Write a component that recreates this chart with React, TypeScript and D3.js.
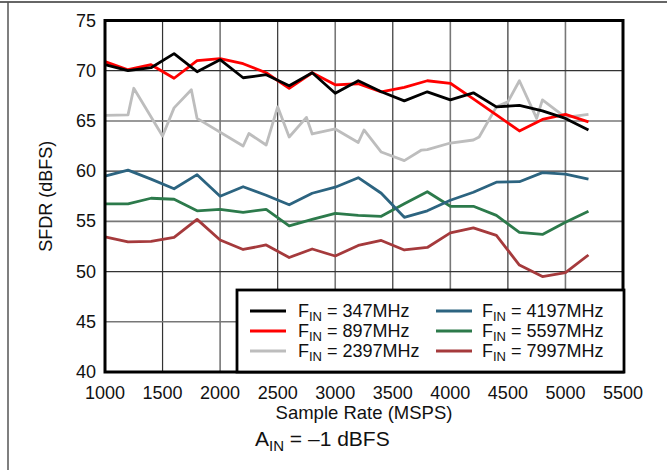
import React from "react";
import * as d3 from "d3";

const sampleRates = [1000, 1200, 1400, 1600, 1800, 2000, 2200, 2400, 2600, 2800, 3000, 3200, 3400, 3600, 3800, 4000, 4200, 4400, 4600, 4800, 5000, 5200];
const fin347 = [70.6, 70.0, 70.3, 71.7, 69.9, 71.1, 69.3, 69.6, 68.5, 69.8, 67.75, 69.0, 67.9, 67.0, 67.9, 67.1, 67.8, 66.4, 66.55, 66.0, 65.25, 64.1];
const fin897 = [70.9, 70.1, 70.6, 69.25, 71.0, 71.2, 70.7, 69.8, 68.25, 69.8, 68.6, 68.7, 67.9, 68.35, 69.0, 68.75, 67.2, 65.6, 64.0, 65.15, 65.65, 64.9];
const fin4197 = [59.5, 60.1, 59.2, 58.25, 59.65, 57.5, 58.45, 57.6, 56.65, 57.8, 58.4, 59.35, 57.8, 55.4, 56.05, 57.1, 57.9, 58.9, 58.95, 59.85, 59.7, 59.2];
const fin5597 = [56.75, 56.75, 57.3, 57.2, 56.05, 56.2, 55.9, 56.2, 54.55, 55.2, 55.8, 55.6, 55.5, 56.75, 57.95, 56.5, 56.5, 55.6, 53.9, 53.7, 54.9, 56.0];
const fin7997 = [53.45, 52.95, 53.0, 53.4, 55.2, 53.15, 52.2, 52.65, 51.4, 52.25, 51.55, 52.6, 53.1, 52.15, 52.4, 53.85, 54.35, 53.6, 50.65, 49.5, 49.9, 51.65];

const grayRates = [1000, 1200, 1250, 1500, 1600, 1750, 1800, 2200, 2250, 2400, 2500, 2600, 2750, 2800, 3000, 3200, 3250, 3400, 3600, 3750, 3800, 4000, 4200, 4250, 4400, 4500, 4600, 4750, 4800, 5000, 5200];
const fin2397 = [65.55, 65.6, 68.25, 63.5, 66.3, 68.1, 65.25, 62.5, 63.75, 62.6, 66.4, 63.4, 65.35, 63.7, 64.2, 62.85, 64.1, 61.9, 61.05, 62.1, 62.15, 62.8, 63.1, 63.4, 66.4, 66.9, 69.0, 65.25, 67.1, 65.35, 65.65];

const xTicks = [1000, 1500, 2000, 2500, 3000, 3500, 4000, 4500, 5000, 5500];
const yTicks = [40, 45, 50, 55, 60, 65, 70, 75];

const seriesNames = ["347MHz", "897MHz", "2397MHz", "4197MHz", "5597MHz", "7997MHz"];
const seriesColors = ["#000000", "#ff0000", "#bdbdbd", "#2c6480", "#2c7a4b", "#a53a3c"];

const FONT = "'Liberation Sans', Arial, Helvetica, sans-serif";

export default function App() {
  const left = 105, right = 623, top = 20.5, bottom = 372;
  const x = d3.scaleLinear().domain([1000, 5500]).range([left, right]);
  const y = d3.scaleLinear().domain([40, 75]).range([bottom, top]);

  const series = [
    { xs: sampleRates, ys: fin347 },
    { xs: sampleRates, ys: fin897 },
    { xs: grayRates, ys: fin2397 },
    { xs: sampleRates, ys: fin4197 },
    { xs: sampleRates, ys: fin5597 },
    { xs: sampleRates, ys: fin7997 },
  ];
  const line = d3.line<[number, number]>().x((d) => x(d[0])).y((d) => y(d[1]));
  const drawOrder = [5, 4, 3, 2, 1, 0];

  const legX = [250, 436];
  const legTextX = [298, 482];
  const legY = [311, 331, 351];

  return (
    <svg width={667} height={470} style={{ position: "absolute", left: 0, top: 0 }} fontFamily={FONT}>
      <rect x={0} y={0} width={667} height={470} fill="#fff" />
      <line x1={0} x2={667} y1={2} y2={2} stroke="#333" strokeWidth={1.5} />
      <line x1={8} x2={8} y1={2} y2={470} stroke="#555" strokeWidth={1.5} />
      {xTicks.map((t, i) => (
        <line key={"gx" + t} x1={x(t)} x2={x(t)} y1={top} y2={bottom} stroke={i % 2 ? "#333" : "#777"} strokeWidth={i % 2 ? 1.2 : 1.6} />
      ))}
      {yTicks.map((t, i) => (
        <line key={"gy" + t} x1={left} x2={right} y1={y(t)} y2={y(t)} stroke={i % 2 ? "#777" : "#333"} strokeWidth={i % 2 ? 1.6 : 1.2} />
      ))}
      {drawOrder.map((i) => (
        <path
          key={"s" + i}
          d={line(series[i].xs.map((v, k) => [v, series[i].ys[k]] as [number, number])) || ""}
          fill="none"
          stroke={seriesColors[i]}
          strokeWidth={2.8}
          strokeLinejoin="round"
        />
      ))}
      <rect x={left} y={top} width={right - left} height={bottom - top} fill="none" stroke="#000" strokeWidth={3} />
      {yTicks.map((t) => (
        <text key={"ty" + t} x={96} y={y(t) + 6} textAnchor="end" fontSize={18} fill="#111">
          {t}
        </text>
      ))}
      {xTicks.map((t) => (
        <text key={"tx" + t} x={x(t)} y={399} textAnchor="middle" fontSize={18} fill="#111">
          {t}
        </text>
      ))}
      <text x={(left + right) / 2} y={419} textAnchor="middle" fontSize={18.5} fill="#111">
        Sample Rate (MSPS)
      </text>
      <text transform={`translate(52, ${(top + bottom) / 2}) rotate(-90)`} textAnchor="middle" fontSize={18} fill="#111">
        SFDR (dBFS)
      </text>
      <rect x={237} y={290} width={387} height={82} fill="#fff" stroke="#000" strokeWidth={2.8} />
      {seriesNames.map((name, i) => {
        const col = Math.floor(i / 3);
        const row = i % 3;
        return (
          <g key={"l" + i}>
            <line x1={legX[col]} x2={legX[col] + 36} y1={legY[row]} y2={legY[row]} stroke={seriesColors[i]} strokeWidth={3} />
            <text x={legTextX[col]} y={legY[row] + 6} fontSize={18} fill="#111">
              <tspan>F</tspan>
              <tspan fontSize={13} dy={4}>IN</tspan>
              <tspan dy={-4}>{" = " + name}</tspan>
            </text>
          </g>
        );
      })}
      <text x={255} y={446} fontSize={21} fill="#111">
        <tspan>A</tspan>
        <tspan fontSize={15} dy={5}>IN</tspan>
        <tspan dy={-5}>{" = \u20131 dBFS"}</tspan>
      </text>
    </svg>
  );
}
